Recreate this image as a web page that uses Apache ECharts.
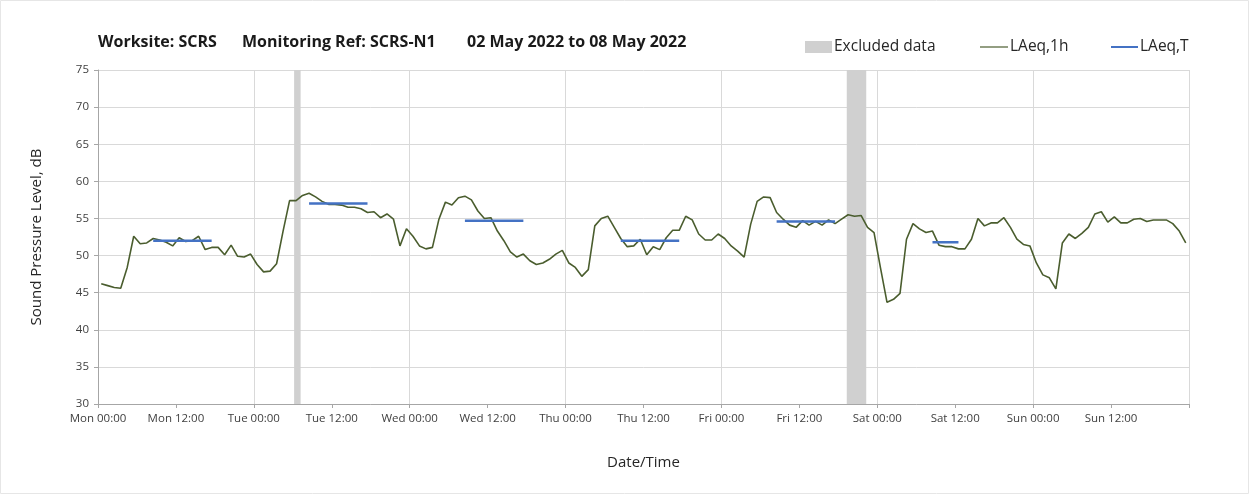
<!DOCTYPE html>
<html>
<head>
<meta charset="utf-8">
<script src="https://cdn.jsdelivr.net/npm/echarts@6/dist/echarts.min.js"></script>
<style>
html,body{margin:0;padding:0;background:#fff;}
#chart{width:1250px;height:495px;}
</style>
</head>
<body>
<div id="chart"></div>
<script>
// Hourly LAeq,1h values, Mon 00:00 .. Sun 23:00 (168 hours)
const laeq1h = [
  46.2, 45.95, 45.7, 45.6, 48.4, 52.6, 51.6, 51.7, 52.3, 52.1,
  51.8, 51.3, 52.4, 51.9, 52.0, 52.6, 50.8, 51.1, 51.1, 50.1,
  51.4, 49.9, 49.8, 50.2, 48.8, 47.8, 47.9, 48.9, 53.3, 57.4,
  57.4, 58.1, 58.4, 57.9, 57.3, 56.9, 56.9, 56.8, 56.5, 56.5,
  56.3, 55.8, 55.9, 55.1, 55.6, 54.9, 51.3, 53.6, 52.6, 51.3,
  50.9, 51.1, 54.9, 57.2, 56.8, 57.8, 58.0, 57.5, 56.0, 55.0,
  55.1, 53.3, 52.0, 50.5, 49.8, 50.2, 49.3, 48.8, 49.0, 49.5,
  50.2, 50.7, 49.0, 48.4, 47.2, 48.1, 54.0, 55.0, 55.3, 53.8,
  52.3, 51.2, 51.3, 52.2, 50.1, 51.2, 50.8, 52.4, 53.4, 53.4,
  55.3, 54.8, 52.9, 52.1, 52.1, 52.9, 52.3, 51.3, 50.6, 49.8,
  54.2, 57.3, 57.9, 57.8, 55.8, 54.9, 54.1, 53.8, 54.7, 54.1,
  54.6, 54.1, 54.8, 54.3, 54.9, 55.5, 55.3, 55.4, 53.8, 53.1,
  48.3, 43.7, 44.1, 44.9, 52.2, 54.3, 53.6, 53.1, 53.3, 51.4,
  51.2, 51.2, 50.9, 50.9, 52.2, 55.0, 54.0, 54.4, 54.4, 55.1,
  53.8, 52.2, 51.5, 51.3, 49.0, 47.4, 47.0, 45.5, 51.7, 52.9,
  52.3, 53.0, 53.8, 55.6, 55.9, 54.5, 55.2, 54.4, 54.4, 54.9,
  55.0, 54.6, 54.8, 54.8, 54.8, 54.3, 53.3, 51.7
];
// LAeq,T periods (hour index of first and last hour) and levels
const periodStartHour = [8, 32, 56, 80, 104, 128];
const periodEndHour   = [17, 41, 65, 89, 113, 132];
const periodLevel     = [52.0, 57.0, 54.7, 52.0, 54.6, 51.8];
// Excluded data ranges, in hours from Mon 00:00
const excludedStart = [30.2, 115.3];
const excludedEnd   = [31.2, 118.3];
// x tick labels, every 12 hours
const xTickLabels = ['Mon 00:00','Mon 12:00','Tue 00:00','Tue 12:00','Wed 00:00','Wed 12:00',
  'Thu 00:00','Thu 12:00','Fri 00:00','Fri 12:00','Sat 00:00','Sat 12:00','Sun 00:00','Sun 12:00',''];
const yTicks = [30, 35, 40, 45, 50, 55, 60, 65, 70, 75];

const FONT = '"Open Sans", "Noto Sans", sans-serif';
const GREEN = '#4a5d2e';
const BLUE = '#4472c4';
const GREY = '#d0d0d0';
const lineData = laeq1h.map((v, i) => [i + 0.5, v]);
const tData = [];
periodLevel.forEach((v, k) => {
  tData.push([periodStartHour[k] + 0.5, v]);
  tData.push([periodEndHour[k] + 0.5, v]);
  tData.push(null);
});
const exclData = excludedStart.map((s, k) => [s, excludedEnd[k]]);

const legendText = {fontSize: 15.5, color: '#262626', fontFamily: FONT, padding: [0, 0, 0, -3]};
const chart = echarts.init(document.getElementById('chart'), null, {renderer: 'canvas'});
chart.setOption({
  animation: false,
  backgroundColor: '#fff',
  textStyle: {fontFamily: FONT},
  graphic: [
    {type: 'rect', shape: {x: 0.5, y: 0.5, width: 1248, height: 493},
     style: {fill: 'none', stroke: '#e6e6e6', lineWidth: 1}, silent: true},
    {type: 'text', left: 98, top: 34, style: {text: 'Worksite: SCRS', font: 'bold 16px ' + FONT, fill: '#1a1a1a'}},
    {type: 'text', left: 242, top: 34, style: {text: 'Monitoring Ref: SCRS-N1', font: 'bold 16px ' + FONT, fill: '#1a1a1a'}},
    {type: 'text', left: 467, top: 34, style: {text: '02 May 2022 to 08 May 2022', font: 'bold 16px ' + FONT, fill: '#1a1a1a'}}
  ],
  legend: [
    {left: 800, top: 34, itemWidth: 27, itemHeight: 12, data: [{name: 'Excluded data', icon: 'rect'}],
     textStyle: legendText},
    {left: 975, top: 34, itemWidth: 28, itemHeight: 12,
     data: [{name: 'LAeq,1h', icon: 'path://M0,5.4 L28,5.4 L28,6.6 L0,6.6 Z', itemStyle: {color: GREEN}}],
     textStyle: legendText},
    {left: 1106, top: 34, itemWidth: 27, itemHeight: 12,
     data: [{name: 'LAeq,T', icon: 'path://M0,5 L27,5 L27,7 L0,7 Z', itemStyle: {color: BLUE}}],
     textStyle: legendText}
  ],
  grid: {left: 98, right: 61, top: 70, bottom: 91, containLabel: false},
  xAxis: [
    {
      type: 'value', min: 0, max: 168, interval: 12,
      name: 'Date/Time', nameLocation: 'middle', nameGap: 51,
      nameTextStyle: {fontSize: 15, color: '#262626', fontFamily: FONT},
      axisLine: {show: true, lineStyle: {color: '#a6a6a6', width: 1}},
      axisTick: {show: true, length: 4, lineStyle: {color: '#a6a6a6'}},
      axisLabel: {margin: 9, fontSize: 11.5, color: '#404040', fontFamily: FONT,
        formatter: v => xTickLabels[Math.round(v / 12)] || ''},
      splitLine: {show: false}
    },
    {
      type: 'value', min: 0, max: 168, interval: 24, position: 'bottom',
      axisLine: {show: false}, axisTick: {show: false}, axisLabel: {show: false},
      splitLine: {show: true, lineStyle: {color: '#d9d9d9', width: 1}}
    }
  ],
  yAxis: {
    type: 'value', min: 30, max: 75, interval: 5,
    name: 'Sound Pressure Level, dB', nameLocation: 'middle', nameGap: 54, nameRotate: 90,
    nameTextStyle: {fontSize: 15, color: '#262626', fontFamily: FONT},
    axisLine: {show: true, lineStyle: {color: '#a6a6a6', width: 1}},
    axisTick: {show: true, length: 4, lineStyle: {color: '#a6a6a6'}},
    axisLabel: {margin: 9, fontSize: 11.5, color: '#404040', fontFamily: FONT,
      formatter: v => yTicks.indexOf(v) >= 0 ? String(v) : ''},
    splitLine: {show: true, lineStyle: {color: '#d9d9d9', width: 1}}
  },
  series: [
    {
      name: 'Excluded data', type: 'custom', xAxisIndex: 0, z: 1,
      itemStyle: {color: GREY},
      data: exclData,
      renderItem: function (params, api) {
        const p1 = api.coord([api.value(0), 75]);
        const p2 = api.coord([api.value(1), 30]);
        return {type: 'rect', shape: {x: p1[0], y: p1[1], width: p2[0] - p1[0], height: p2[1] - p1[1]},
          style: {fill: GREY}};
      }
    },
    {
      name: 'LAeq,1h', type: 'line', xAxisIndex: 0, data: lineData, z: 3,
      symbol: 'none', showSymbol: false,
      lineStyle: {color: GREEN, width: 1.6},
      itemStyle: {color: GREEN}
    },
    {
      name: 'LAeq,T', type: 'line', xAxisIndex: 0, data: tData, z: 4,
      symbol: 'none', showSymbol: false, connectNulls: false,
      lineStyle: {color: BLUE, width: 2.5},
      itemStyle: {color: BLUE}
    }
  ]
});
</script>
</body>
</html>
